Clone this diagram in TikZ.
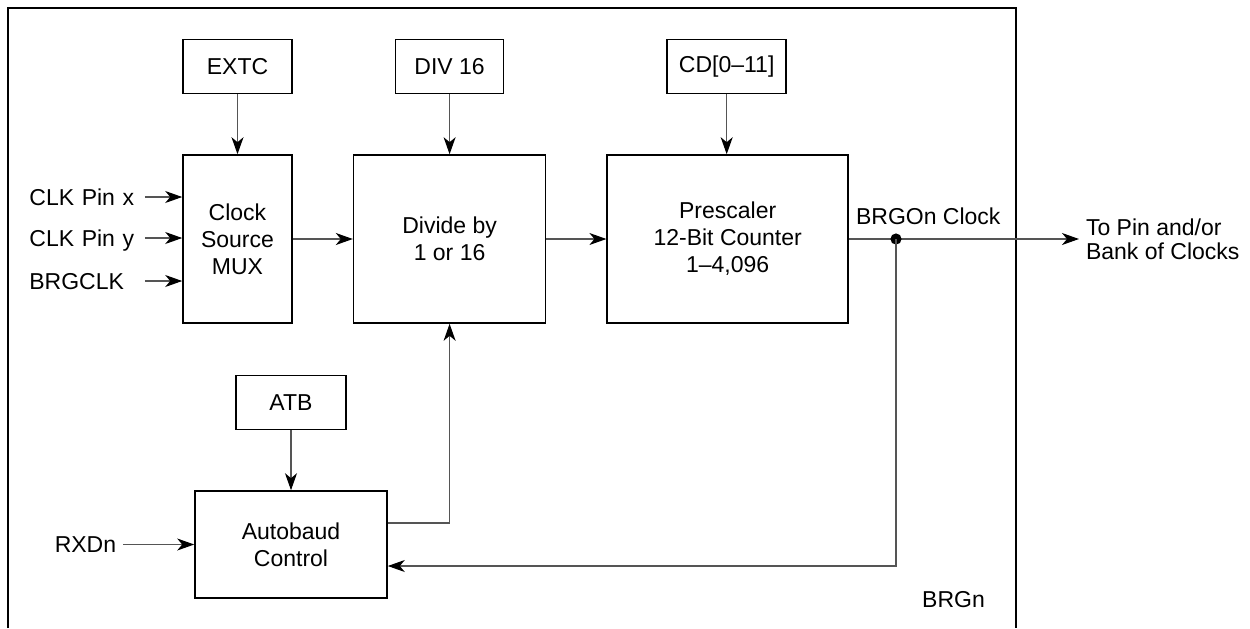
\documentclass[tikz,border=0pt]{standalone}
\usepackage{fontspec}
\setmainfont{Liberation Sans}
\usetikzlibrary{arrows.meta,positioning,calc}
\definecolor{wiregray}{HTML}{555555}

\begin{document}
\begin{tikzpicture}[node distance=30pt, every node/.style={font=\fontsize{11.5pt}{13.5pt}\selectfont, align=center}, >={Stealth[length=8.5pt,width=6pt,inset=2.5pt,color=black]},
  blk/.style={draw, line width=0.8pt, inner sep=2pt},
  wire/.style={->, draw=wiregray, line width=0.55pt},
  pinlbl/.style={anchor=west, align=left, text width=57.5pt, inner sep=0pt, text depth=0pt}]
  \useasboundingbox (0,0) rectangle (625pt,-314pt);
  % outer frame, open at the bottom
  \draw[line width=1pt] (4pt,-314pt) -- (4pt,-3.8pt) -- (508pt,-3.8pt) -- (508pt,-314pt);
  \node[blk, minimum width=54.5pt, minimum height=84pt] (mux) at (118.75pt,-119.5pt) {Clock\\Source\\MUX};
  \node[blk, minimum width=54.5pt, minimum height=27pt, above=of mux] (extc) {EXTC};
  \node[blk, minimum width=96pt, minimum height=84pt, right=of mux] (divide) {Divide by\\1 or 16};
  \node[blk, minimum width=54pt, minimum height=27pt, above=of divide] (div16) {DIV 16};
  \node[blk, minimum width=120.5pt, minimum height=84pt, right=of divide] (presc) {Prescaler\\12-Bit Counter\\1--4,096};
  \node[blk, minimum width=59.5pt, minimum height=27pt, above=of presc, xshift=-0.5pt] (cd) {CD[0--11]};
  \node[blk, minimum width=96pt, minimum height=53.5pt] (auto) at (145.5pt,-272.25pt) {Autobaud\\Control};
  \node[blk, minimum width=55pt, minimum height=27pt, above=of auto] (atb) {ATB};
  % inputs
  \node[pinlbl] (clkx) at (14.5pt,-98.5pt) {CLK Pin x};
  \node[pinlbl] (clky) at (14.5pt,-119pt) {CLK Pin y};
  \node[pinlbl] (brgclk) at (14.5pt,-140.5pt) {BRGCLK};
  \node[left=35.5pt of auto] (rxd) {RXDn};
  % outputs
  \coordinate (tap) at ([xshift=23.5pt]presc.east);
  \coordinate (outtip) at ([xshift=115pt]presc.east);
  \coordinate (fbk) at ([yshift=-10.75pt]auto.east);
  \node[anchor=west, align=left, font=\fontsize{11.5pt}{12pt}\selectfont] (dest) at (outtip) {To Pin and/or\\Bank of Clocks};
  \node[anchor=south west, yshift=3.5pt] (brgo) at (presc.east) {BRGOn Clock};
  \node (brgn) at (476.75pt,-300pt) {BRGn};
  % connections
  \draw[wire] (extc) -- (mux);
  \draw[wire] (div16) -- (divide);
  \draw[wire] (cd.south) -- (cd.south |- presc.north);
  \draw[wire] (atb) -- (auto);
  \draw[wire] (mux) -- (divide);
  \draw[wire] (divide) -- (presc);
  \foreach \p in {clkx,clky,brgclk}
    \draw[wire] (\p.east) -- (\p.east -| mux.west);
  \draw[wire] (rxd) -- (auto);
  \draw[wire] (presc.east) -- (outtip);
  \fill (tap) circle (2.8pt);
  \draw[wire] (tap) |- (fbk);
  \draw[wire] ([yshift=10.75pt]auto.east) -| (divide.south);
\end{tikzpicture}
\end{document}
